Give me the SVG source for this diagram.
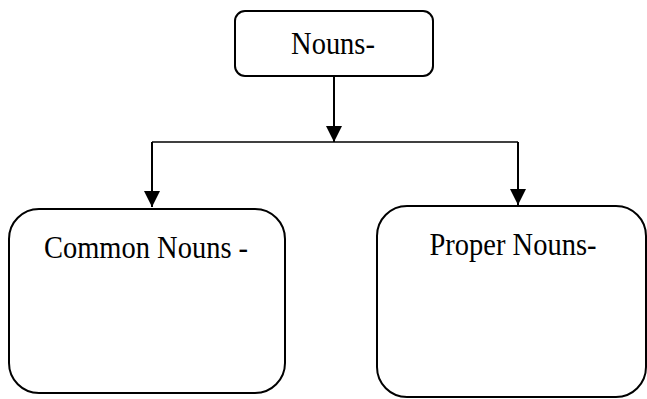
<svg xmlns="http://www.w3.org/2000/svg" width="647" height="399" viewBox="0 0 647 399">
<style>
.box{fill:#fff;stroke:#000;stroke-width:2}
.lbl{font-family:"Liberation Serif","Times New Roman",serif;font-size:28.5px;fill:#000;text-anchor:middle}
.line{stroke:#000;stroke-width:2;fill:none}
.thin{stroke:#000;stroke-width:1.3;fill:none}
</style>
<defs>
<marker id="ah" markerUnits="userSpaceOnUse" markerWidth="16" markerHeight="16" viewBox="0 0 16 16" refX="16" refY="8" orient="auto">
<path d="M0,0 L16,8 L0,16 Z" fill="#000"/>
</marker>
</defs>
<g id="connectors">
<line class="line" x1="334" y1="77" x2="334" y2="142" marker-end="url(#ah)"/>
<line class="thin" x1="152" y1="142" x2="518" y2="142"/>
<line class="line" x1="152" y1="142" x2="152" y2="207" marker-end="url(#ah)"/>
<line class="line" x1="518" y1="142" x2="518" y2="205" marker-end="url(#ah)"/>
</g>
<g id="nouns">
<rect class="box" x="235" y="11" width="198" height="65" rx="10"/>
<text class="lbl" transform="translate(333 54) scale(1 1.12)">Nouns-</text>
</g>
<g id="common">
<rect class="box" x="9" y="209" width="276" height="184" rx="30"/>
<text class="lbl" transform="translate(146 258) scale(1 1.12)">Common Nouns -</text>
</g>
<g id="proper">
<rect class="box" x="377" y="206" width="269" height="191" rx="30"/>
<text class="lbl" transform="translate(513 255) scale(1 1.12)">Proper Nouns-</text>
</g>
</svg>
